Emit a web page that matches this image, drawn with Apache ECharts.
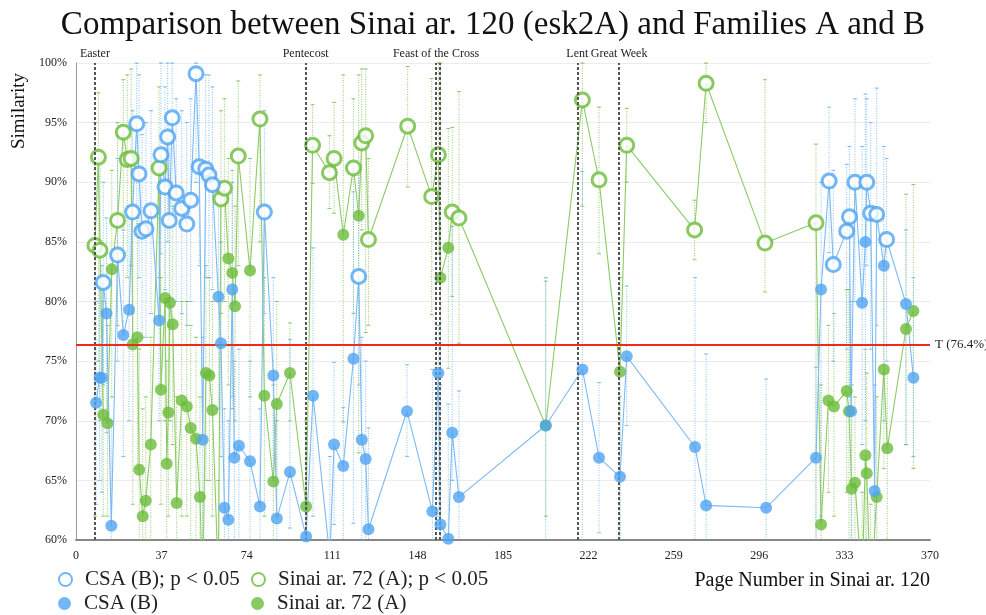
<!DOCTYPE html>
<html>
<head>
<meta charset="utf-8">
<script src="https://cdn.jsdelivr.net/npm/echarts@6/dist/echarts.min.js"></script>
<style>
html,body{margin:0;padding:0;background:#fff;}
#chart{width:986px;height:615px;}
</style>
</head>
<body>
<div id="chart"></div>
<script>
// ---------- DATA ----------
const xTicks = [0, 37, 74, 111, 148, 185, 222, 259, 296, 333, 370];
const yTicks = [60, 65, 70, 75, 80, 85, 90, 95, 100];
const threshold = 76.4;
const feastNames = ['Easter', 'Pentecost', 'Feast of the Cross', '', 'Lent', 'Great Week'];
const feastPages = [8.2, 99.5, 156.0, 157.7, 217.2, 235.3];

// CSA (B)
const csaPage = [8.7,10.2,11.2,11.8,13.2,15.3,18,20.5,23,24.5,26.3,27.3,28.6,30.3,32.5,36,36.8,38.6,39.7,40.4,41.7,43.4,45.8,48,49.7,52,53.4,54.9,56.2,57.6,59.1,61.7,62.8,64.3,66,67.7,68.6,70.6,75.4,79.7,81.6,85.5,87,92.7,99.7,102.7,110,111.8,115.8,120.2,122.5,123.8,125.5,126.7,143.4,154.4,157,157.9,161.3,163,165.9,203.5,219.4,226.6,235.7,238.6,268.2,273,299,320.6,322.8,326.3,328.1,333.9,335.1,335.8,337.5,340.6,342,342.6,344.3,346,346.9,350,351.2,359.6,362.8];
const csaValue = [71.5,73.6,73.6,81.6,79.0,61.2,83.9,77.2,79.3,87.5,94.9,90.7,85.9,86.1,87.6,78.4,92.3,89.6,93.8,86.8,95.4,89.1,87.8,86.5,88.5,99.1,91.3,68.4,91.1,90.6,89.8,80.4,76.5,62.7,61.7,81.0,66.9,67.9,66.6,62.8,87.5,73.8,61.8,65.7,60.3,72.1,58.5,68.0,66.2,75.2,82.1,68.4,66.8,60.9,70.8,62.4,74.0,61.3,60.1,69.0,63.6,69.6,74.3,66.9,65.3,75.4,67.8,62.9,62.7,66.9,81.0,90.1,83.1,85.9,87.1,70.8,90.0,79.9,85.0,90.0,87.4,64.1,87.3,83.0,85.2,79.8,73.6];
const csaSig = [0,0,0,1,0,0,1,0,0,1,1,1,1,1,1,0,1,1,1,1,1,1,1,1,1,1,1,0,1,1,1,0,0,0,0,0,0,0,0,0,1,0,0,0,0,0,0,0,0,0,1,0,0,0,0,0,0,0,0,0,0,0,0,0,0,0,0,0,0,0,0,1,1,1,1,0,1,0,0,1,1,0,1,0,1,0,0];
const csaLow = [63,65,64,73,69,53,75,67,70,79,86,82,77,77,79,70,84,81,85,78,87,80,79,78,80,90,83,59,82,82,81,71,67,54,53,72,58,59,58,54,79,65,53,61,52,62,50,61.3,58,61.4,73,60,58,53,67,56,62,54,52,65,56,55,55,60.6,55,69.6,55,55,55,55,62,84.1,75,76,72,55,80,68,70,83,76,55,78,70,75,68,67];
const csaHigh = [80,82,83,90,87,70,92,86,88,96,100,99,94,95,96,87,100,98,100,95,100,97,96,95,97,100,99,77,99,99,98,89,85,71,70,90,75,76,75,71,96,82,70,76.8,69,84.5,67,74.9,71.1,89.2,91,77,75,69.4,74.7,74.3,78,73,71.4,86.3,72.5,81.7,90.9,73.2,72,81.3,82,75.6,73.5,74.5,90,96.3,91,91.5,93,80,97,93,97.4,97,95,73,97.9,93,92,86,82];

// Sinai ar. 72 (A)
const sinaiPage = [8.2,9.7,10.4,11.8,13.6,15.5,18,20.5,22.2,23.9,24.6,26.6,27.4,28.9,30.2,32.4,36,36.8,38.6,39.3,40,40.7,41.9,43.6,45.8,48,49.7,52,53.7,54.9,56.3,57.8,59.1,61.7,62.8,64.3,66,67.7,68.9,70.3,75.4,79.7,81.6,85.5,87,92.7,99.7,102.5,109.8,111.8,115.8,120.2,122.5,123.8,125.5,126.7,143.7,154.1,157,157.9,161.3,163,165.9,203.5,219.4,226.6,235.7,238.6,268,273,298.5,320.6,322.8,326,328.4,333.9,334.9,336.1,337.5,340.6,342,342.6,344.3,346.9,350,351.5,359.6,362.8];
const sinaiValue = [84.7,92.1,84.3,70.5,69.8,82.7,86.8,94.2,91.9,92.0,76.4,77.0,65.9,62.0,63.3,68.0,91.2,72.6,80.3,66.4,70.7,79.9,78.1,63.1,71.7,71.2,69.4,68.5,63.6,55.5,74.0,73.8,70.9,56.5,88.6,89.5,83.6,82.4,79.6,92.2,82.6,95.3,72.1,64.9,71.4,74.0,62.8,93.1,90.8,92.0,85.6,91.2,87.2,93.3,93.9,85.2,94.7,88.8,92.3,82.0,84.5,87.5,87.0,69.6,96.9,90.2,74.1,93.1,86.0,98.3,84.9,86.6,61.3,71.7,71.2,72.5,70.8,64.3,64.8,56.0,67.1,65.6,55.0,63.6,74.3,67.7,77.7,79.2];
const sinaiSig = [1,1,1,0,0,0,1,1,1,1,0,0,0,0,0,0,1,0,0,0,0,0,0,0,0,0,0,0,0,0,0,0,0,0,1,1,0,0,0,1,0,1,0,0,0,0,0,1,1,1,0,1,0,1,1,1,1,1,1,0,0,1,1,0,1,1,0,1,1,1,1,1,0,0,0,0,0,0,0,0,0,0,0,0,0,0,0,0];
const sinaiLow = [62,75,70,62,62,72,78,84,82,83,63,66,57,54,55,60,82,63,70,58,62,70,68,55,62,62,60,59,55,48,65,65,62,48,79,80,73,71,70,83,72,85,62,56,62,70,55,89.9,87.8,87.4,69.9,79,67.3,86,77.4,78,89.6,78.9,84,74,74.4,80.4,76.5,62,88,84,60,90,83.5,95,80.8,55,55,64,62,64,58,56,56,48,58,57,47,55,66,60,68,66];
const sinaiHigh = [95,97.5,92,80,78,91,95,98.6,99,99.5,88,87,76,71,72,77,98,82,90,75,80,90,88,72,80,80,78,77,72,64,83,82,80,65,96,97,92,91,88,98.5,92,99,82,73,80,78.2,70,96.5,93.9,96.7,99,97,99,99.5,99.5,92,99.7,98.7,100,100,94.5,94.6,97.6,82,100,96.3,82,96.2,88.5,100,98.6,93.2,73,78,79,81,81,73,72,64,76,74,63,72,83,74,89,89.8];

// ---------- STYLE ----------
const BLUE = '#4FA4F2';
const GREEN = '#6BBB3A';
const FONT = 'Liberation Serif';

function pairs(px, py, filter) {
  const out = [];
  for (let i = 0; i < px.length; i++) {
    if (!filter || filter(i)) out.push([px[i], py[i]]);
  }
  return out;
}
function errData(px, lo, hi) {
  return px.map((x, i) => [x, lo[i], hi[i]]);
}
function errRender(color) {
  return function (params, api) {
    const cs = params.coordSys;
    const top = cs.y, bot = cs.y + cs.height;
    const x = api.value(0);
    const pLo = api.coord([x, api.value(1)]);
    const pHi = api.coord([x, api.value(2)]);
    const y1 = Math.max(top, Math.min(bot, pHi[1]));
    const y2 = Math.max(top, Math.min(bot, pLo[1]));
    const children = [{
      type: 'line',
      shape: {x1: pLo[0], y1: y1, x2: pLo[0], y2: y2},
      style: {stroke: color, lineWidth: 1, lineDash: [1, 1.5]}
    }];
    if (pHi[1] >= top && pHi[1] <= bot) children.push({type: 'line', shape: {x1: pHi[0] - 2, y1: pHi[1], x2: pHi[0] + 2, y2: pHi[1]}, style: {stroke: color, lineWidth: 1}});
    if (pLo[1] >= top && pLo[1] <= bot) children.push({type: 'line', shape: {x1: pLo[0] - 2, y1: pLo[1], x2: pLo[0] + 2, y2: pLo[1]}, style: {stroke: color, lineWidth: 1}});
    return {type: 'group', children: children};
  };
}

const feastLines = feastPages.map((p, i) => ({xAxis: p, name: feastNames[i]}));

function legendAt(name, left, top) {
  return {
    left: left, top: top, itemWidth: 13, itemHeight: 13, icon: 'circle', itemGap: 0,
    textStyle: {fontSize: 21, fontFamily: FONT, color: '#222', padding: [0, 0, 0, 8]},
    data: [name]
  };
}

const chart = echarts.init(document.getElementById('chart'), null, {renderer: 'canvas'});
chart.setOption({
  animation: false,
  backgroundColor: '#fff',
  textStyle: {fontFamily: FONT},
  title: {
    text: 'Comparison between Sinai ar. 120 (esk2A) and Families A and B',
    left: 'center', top: 4,
    textStyle: {fontFamily: FONT, fontSize: 33, fontWeight: 'normal', color: '#111'}
  },
  grid: {left: 76, right: 56, top: 63, bottom: 75},
  xAxis: {
    type: 'value', min: 0, max: 370, interval: 37,
    axisLine: {show: true, lineStyle: {color: '#888', width: 2}},
    axisTick: {show: false},
    splitLine: {show: false},
    axisLabel: {color: '#222', fontSize: 12, fontFamily: FONT, margin: 10,
      formatter: v => xTicks.indexOf(v) >= 0 ? String(v) : ''}
  },
  yAxis: {
    type: 'value', min: 60, max: 100, interval: 5,
    axisLine: {show: true, lineStyle: {color: '#999', width: 1}},
    axisTick: {show: false},
    splitLine: {show: true, lineStyle: {color: '#ececec', width: 1}},
    axisLabel: {color: '#222', fontSize: 12, fontFamily: FONT, margin: 9,
      formatter: v => yTicks.indexOf(v) >= 0 ? v + '%' : ''}
  },
  legend: [
    legendAt('CSA (B); p < 0.05', 53, 564),
    legendAt('CSA (B)', 53, 588),
    legendAt('Sinai ar. 72 (A); p < 0.05', 246, 564),
    legendAt('Sinai ar. 72 (A)', 246, 588)
  ],
  graphic: [
    {type: 'text', x: 19, y: 111, rotation: Math.PI / 2,
      style: {text: 'Similarity', font: '19px "Liberation Serif"', fill: '#111', textAlign: 'center', textVerticalAlign: 'middle'}},
    {type: 'text', x: 930, y: 581,
      style: {text: 'Page Number in Sinai ar. 120', font: '20px "Liberation Serif"', fill: '#111', textAlign: 'right', textVerticalAlign: 'middle'}}
  ],
  series: [
    {
      name: 'errSinai', type: 'custom', z: 1, silent: true,
      renderItem: errRender('rgba(107,187,58,0.75)'),
      encode: {x: 0, y: [1, 2]},
      data: errData(sinaiPage, sinaiLow, sinaiHigh)
    },
    {
      name: 'errCsa', type: 'custom', z: 1, silent: true,
      renderItem: errRender('rgba(79,164,242,0.7)'),
      encode: {x: 0, y: [1, 2]},
      data: errData(csaPage, csaLow, csaHigh)
    },
    {
      name: 'sinaiLine', type: 'line', z: 2, showSymbol: false, silent: true,
      lineStyle: {color: '#8CCB66', width: 1.1},
      data: pairs(sinaiPage, sinaiValue)
    },
    {
      name: 'csaLine', type: 'line', z: 3, showSymbol: false, silent: true,
      lineStyle: {color: '#7CBAF2', width: 1.1},
      data: pairs(csaPage, csaValue),
      markLine: {
        silent: true, symbol: 'none',
        lineStyle: {color: '#555', type: [3, 2], width: 2},
        label: {show: true, position: 'end', formatter: '{b}', color: '#222', fontSize: 12, fontFamily: FONT, distance: 3},
        data: feastLines.concat([{
          yAxis: threshold, name: 'T (76.4%)',
          lineStyle: {color: '#EE2A1F', type: 'solid', width: 2},
          label: {position: 'end', formatter: 'T (76.4%)', color: '#222', fontSize: 13, distance: 5}
        }])
      }
    },
    {
      name: 'Sinai ar. 72 (A)', type: 'scatter', z: 4, symbol: 'circle', symbolSize: 12,
      itemStyle: {color: GREEN},
      data: pairs(sinaiPage, sinaiValue, i => !sinaiSig[i])
    },
    {
      name: 'Sinai ar. 72 (A); p < 0.05', type: 'scatter', z: 4, symbol: 'circle', symbolSize: 14,
      itemStyle: {color: '#fff', borderColor: GREEN, borderWidth: 3},
      data: pairs(sinaiPage, sinaiValue, i => !!sinaiSig[i])
    },
    {
      name: 'CSA (B)', type: 'scatter', z: 5, symbol: 'circle', symbolSize: 12,
      itemStyle: {color: BLUE},
      data: pairs(csaPage, csaValue, i => !csaSig[i])
    },
    {
      name: 'CSA (B); p < 0.05', type: 'scatter', z: 5, symbol: 'circle', symbolSize: 14,
      itemStyle: {color: '#fff', borderColor: BLUE, borderWidth: 3},
      data: pairs(csaPage, csaValue, i => !!csaSig[i])
    }
  ]
});
</script>
</body>
</html>
